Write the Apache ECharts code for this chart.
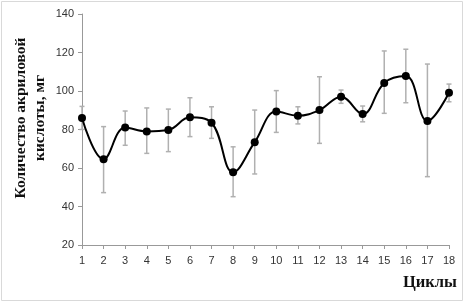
<!DOCTYPE html>
<html><head><meta charset="utf-8">
<script src="https://cdn.jsdelivr.net/npm/echarts@6/dist/echarts.min.js"></script>
<style>html,body{margin:0;padding:0;background:#fff}#c{width:465px;height:304px}</style>
</head><body><div id="c"></div>
<script>
var cycles = [1,2,3,4,5,6,7,8,9,10,11,12,13,14,15,16,17,18];
var means  = [86,64.5,81,79,79.7,86.3,83.5,57.8,73.4,89.3,87.2,90.1,97,88,104.2,107.8,84.4,99.1];
var errLow = [80,47.2,71.8,67.6,68.5,76.3,75.4,45.1,56.9,78.5,82.9,72.8,93.6,84,88.4,93.9,55.5,94.4];
var errHigh= [92,81.5,89.6,91.2,90.6,96.5,91.8,71,90.1,100.2,91.8,107.4,100.5,92.2,120.8,121.7,114,103.6];
var yTicks = [20,40,60,80,100,120,140];
var yTitle = 'Количество акриловой\nкислоты, мг';
var xTitle = 'Циклы';

var chart = echarts.init(document.getElementById('c'));
var lineData = cycles.map(function(c,i){return [c, means[i]];});
var errData = cycles.map(function(c,i){return [c, errLow[i], errHigh[i]];});
chart.setOption({
  animation:false,
  grid:{left:82,right:16,top:14,bottom:59},
  xAxis:{type:'value',min:1,max:18,interval:1,
    axisLine:{lineStyle:{color:'#999',width:1}},
    axisTick:{show:true,length:4,lineStyle:{color:'#999'}},
    axisLabel:{color:'#333',fontSize:11,fontFamily:'Liberation Sans',margin:10},
    splitLine:{show:false}},
  yAxis:{type:'value',min:yTicks[0],max:yTicks[yTicks.length-1],interval:20,
    axisLine:{show:true,lineStyle:{color:'#999',width:1}},
    axisTick:{show:true,length:4,lineStyle:{color:'#999'}},
    axisLabel:{color:'#333',fontSize:11,fontFamily:'Liberation Sans',margin:8},
    splitLine:{show:false}},
  graphic:[
    {type:'rect',shape:{x:1.5,y:1.5,width:461,height:299},style:{fill:'none',stroke:'#d9d9d9',lineWidth:1},silent:true},
    {type:'text',x:30,y:118,rotation:Math.PI/2,style:{text:yTitle,font:'bold 15.5px "Liberation Serif"',fill:'#111',textAlign:'center',textVerticalAlign:'middle',lineHeight:19}},
    {type:'text',x:457,y:283,style:{text:xTitle,font:'bold 16.5px "Liberation Serif"',fill:'#111',textAlign:'right',textVerticalAlign:'middle'}}
  ],
  series:[
    {type:'custom',data:errData,z:1,
      renderItem:function(params,api){
        var x=api.value(0);
        var lo=api.coord([x,api.value(1)]);
        var hi=api.coord([x,api.value(2)]);
        var cw=2.5;
        var st={stroke:'#b0b0b0',lineWidth:1.5};
        return {type:'group',children:[
          {type:'line',shape:{x1:lo[0],y1:lo[1],x2:hi[0],y2:hi[1]},style:st},
          {type:'line',shape:{x1:lo[0]-cw,y1:lo[1],x2:lo[0]+cw,y2:lo[1]},style:st},
          {type:'line',shape:{x1:hi[0]-cw,y1:hi[1],x2:hi[0]+cw,y2:hi[1]},style:st}
        ]};
      }},
    {type:'line',data:lineData,smooth:0.4,z:3,
      lineStyle:{color:'#000',width:2},
      symbol:'circle',symbolSize:8,itemStyle:{color:'#000'}}
  ]
});
</script></body></html>
